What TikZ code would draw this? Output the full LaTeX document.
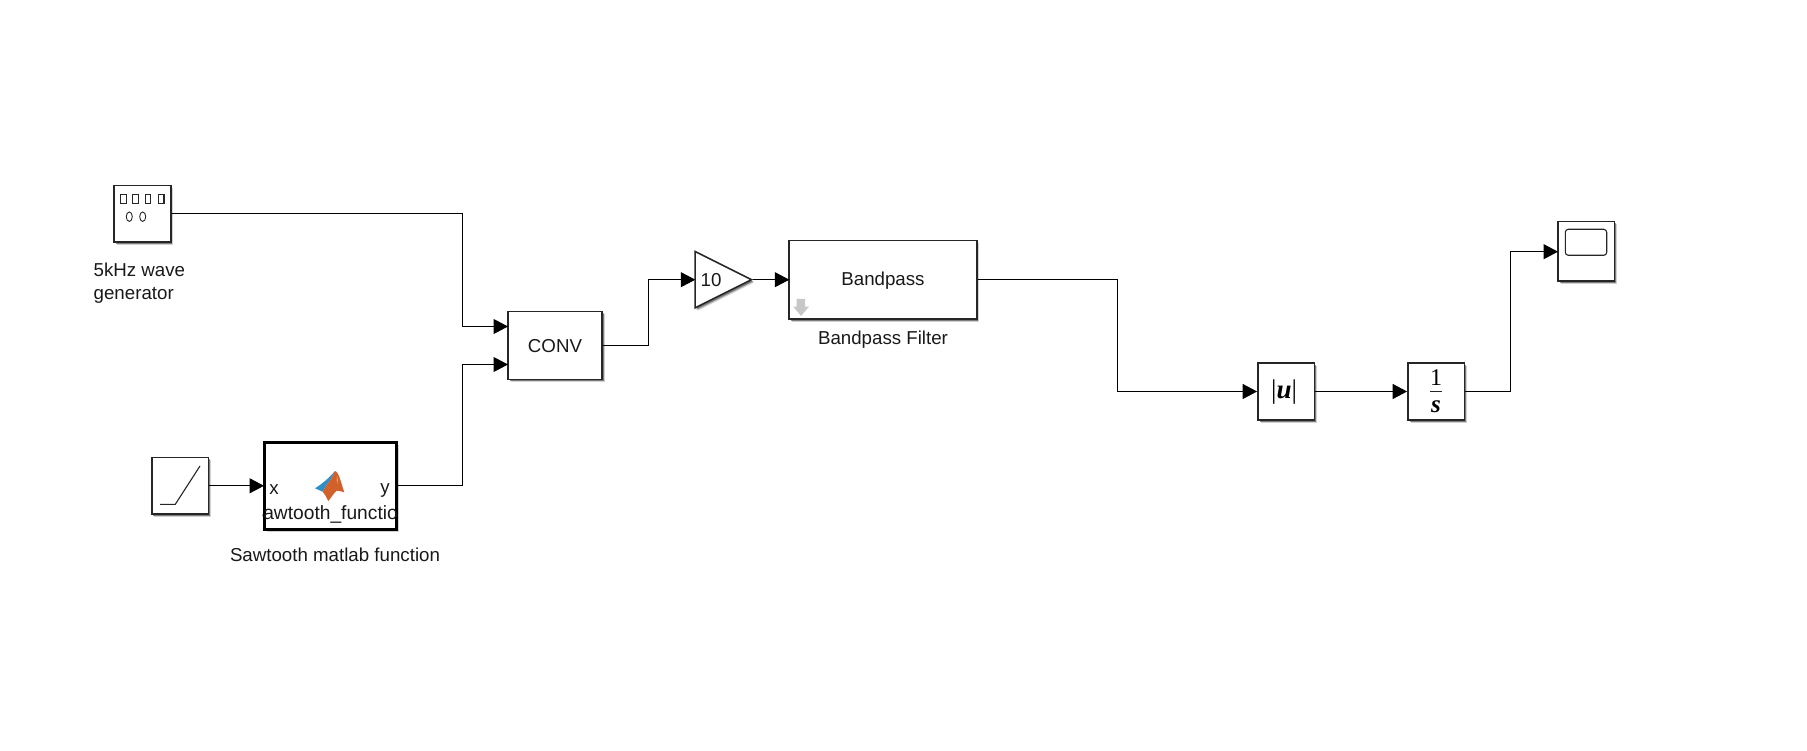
\documentclass[tikz,border=0pt]{standalone}
\usepackage{fontspec}
\setmainfont{Liberation Sans}
\usetikzlibrary{arrows.meta}
\usetikzlibrary{shadows}
\usetikzlibrary{shapes.geometric}
\colorlet{blockline}{black!85}
\definecolor{logoblue}{HTML}{2F8FC4}
\definecolor{logored}{HTML}{D2602A}
\definecolor{logohigh}{HTML}{EDA77E}
\tikzstyle{block}=[draw=blockline,line width=1.6pt,fill=white,inner sep=0pt,
	drop shadow={shadow xshift=2.6pt,shadow yshift=-2.8pt,fill=black,opacity=.18},
	drop shadow={shadow xshift=1.6pt,shadow yshift=-1.8pt,fill=black,opacity=.4}]
\tikzstyle{wire}=[line width=1.1pt,black,>/.tip={Triangle[length=14.5pt,width=15pt]}]
\tikzstyle{lbl}=[inner sep=0pt,font=\fontsize{18.7pt}{23pt}\selectfont,text=black!90]
\tikzstyle{glyph}=[line width=1.1pt,draw=black!85]
\tikzstyle{serifmath}=[inner sep=0pt,font=\fontspec{Liberation Serif}]
\newcommand\blockat[6]{\node[block,minimum width=#3pt,minimum height=#4pt,#5] (#1) at (#2) {#6};}
\begin{document}
\begin{tikzpicture}[x=1pt,y=-1pt]
	\useasboundingbox (0,0) rectangle (1807,751);
	% blocks
	\blockat{gen}{142.4,213.9}{56.6}{56.4}{}{}
	\blockat{ramp}{180,485.8}{56.6}{56.4}{}{}
	\blockat{saw}{330,485.8}{132}{86.4}{line width=3pt,draw=black}{}
	\blockat{conv}{555,345.5}{94}{67.6}{}{}
	\node[block,isosceles triangle,isosceles triangle apex angle=53.13,minimum height=56.4pt,anchor=apex] (gain) at (753.3,279.7) {};
	\blockat{band}{883,279.7}{187.6}{78.7}{}{}
	\blockat{abs}{1286.1,391.5}{56.4}{56.6}{}{}
	\blockat{intg}{1436.1,391.5}{56.4}{56.6}{}{}
	\blockat{scope}{1586.1,251.5}{56.4}{59.6}{}{}
	% labels
	\node[lbl] (convlbl) at (555,345.7) {CONV};
	\node[lbl] (bandname) at (883,281) {Bandpass};
	\node[lbl,anchor=north west,align=left] (genlbl) at (93.5,263) {5kHz wave\\generator};
	\node[lbl] (sawlbl) at (335,554.5) {Sawtooth matlab function};
	\node[lbl] (bandlbl) at (883,339.5) {Bandpass Filter};
	\node[lbl] (gainval) at (711,280) {10};
	\node[lbl] (sawx) at (274,489.5) {x};
	\node[lbl] (sawy) at (385,490) {y};
	\begin{scope}
		\clip (saw.north west) rectangle (saw.south east);
		\node[lbl,font=\fontsize{19.2pt}{23pt}\selectfont] (sawname) at (329.5,514) {Sawtooth\_function};
	\end{scope}
	% generator icon
	\foreach \i/\xx in {1/123.4,2/135.6,3/148,4/161.3}
		\node[glyph,minimum width=5.4pt,minimum height=8.6pt,inner sep=0pt] (key\i) at (\xx,198.8) {};
	\foreach \i/\xx in {1/129.3,2/142.7}
		\node[ellipse,line width=.9pt,draw=black!85,minimum width=6pt,minimum height=9.5pt,inner sep=0pt] (dot\i) at (\xx,216.7) {};
	% ramp icon
	\draw[glyph] (160,504.3) -- (175.3,504.3) -- (200,466);
	% matlab logo
	\fill[logoblue] (315,488.3) .. controls (322,484) and (329,478) .. (335,471) .. controls (332,478) and (329,482) .. (326.7,485) -- (322.7,491.7) -- cycle;
	\fill[logored] (335,471) .. controls (339,472) and (341,483) .. (344.3,492.3) .. controls (341,491) and (339,491) .. (336.7,490.7) .. controls (333,494) and (331,498) .. (328.3,501) .. controls (326,497) and (325,494) .. (322.7,491.7) -- (326.7,485) .. controls (329,482) and (332,478) .. (335,471) -- cycle;
	\fill[logohigh] (337,476) .. controls (338,479) and (338,481) .. (337.5,484) .. controls (336.5,481) and (336.5,479) .. (337,476) -- cycle;
	% arrow on the filter
	\fill[black!22] (796.7,299) -- (805,299) -- (805,306.7) -- (809,306.7) -- (801,316) -- (793.3,306.7) -- (796.7,306.7) -- cycle;
	% abs and integrator
	\node[serifmath,font=\fontsize{27pt}{30pt}\selectfont\fontspec{Liberation Serif}] (absval) at (1284,392.5) {|\textbf{\textit{u}}|};
	\node[serifmath,font=\fontsize{24pt}{26pt}\selectfont\fontspec{Liberation Serif}] (intone) at (1436,377.5) {1};
	\node[serifmath,font=\fontsize{25pt}{26pt}\selectfont\fontspec{Liberation Serif}] (ints) at (1436,407) {\textbf{\textit{s}}};
	\draw[line width=1.1pt,black!85] (intg.center) ++(-5.8,0) coordinate (barl) -- ++(11.6,0) coordinate (barr);
	% scope screen
	\draw[glyph,rounded corners=3pt] (1565.3,229.3) rectangle (1606.7,255.3);
	% ports and bends
	\coordinate (convupper) at (508,326.5);
	\coordinate (convlower) at (508,364.5);
	\coordinate (sawin) at (264,485.8);
	\coordinate (gainin) at (695.3,279.7);
	\coordinate (bandin) at (789.3,279.7);
	\coordinate (scopein) at (1558,251.7);
	\coordinate (bendA) at (462.3,326.5);
	\coordinate (bendE) at (462.3,364.5);
	\coordinate (bendB) at (648.3,279.7);
	\coordinate (bendC) at (1117.5,391.5);
	\coordinate (bendD) at (1510.3,251.7);
	% connectors
	\draw[wire,->] (gen.east) -| (bendA) -- (convupper);
	\draw[wire,->] (saw.east) -| (bendE) -- (convlower);
	\draw[wire,->] (ramp.east) -- (sawin);
	\draw[wire,->] (conv.east) -| (bendB) -- (gainin);
	\draw[wire,->] (gain.apex) -- (bandin);
	\draw[wire,->] (band.east) -| (bendC) -- (abs.west);
	\draw[wire,->] (abs.east) -- (intg.west);
	\draw[wire,->] (intg.east) -| (bendD) -- (scopein);
\end{tikzpicture}
\end{document}
